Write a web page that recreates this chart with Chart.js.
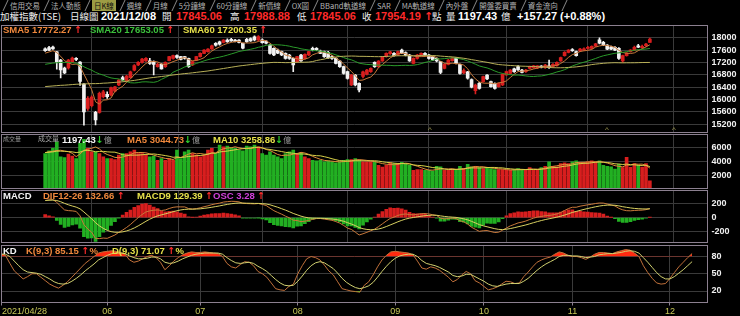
<!DOCTYPE html>
<html>
<head>
<meta charset="utf-8">
<script src="https://cdn.jsdelivr.net/npm/chart.js@4.4.1/dist/chart.umd.min.js"></script>
<style>
  body { margin:0; background:#000; width:740px; height:316px; overflow:hidden; position:relative;
         font-family:"Liberation Sans", Arial, "Noto Sans CJK TC", sans-serif; }
  canvas { position:absolute; left:0; }
  .tabs { position:absolute; left:3px; top:0; height:11px; display:flex; }
  .tab { position:relative; height:11px; font-size:7.5px; line-height:11px; color:#b4b4b4;
         font-family:"Noto Sans CJK TC", "Liberation Sans", sans-serif; white-space:nowrap; padding:0 4px 0 7px; }
  .tab:before { content:""; position:absolute; left:2px; top:0; width:1px; height:11px; background:#8a8a8a; transform:skewX(-25deg); }
  .tab.on span { background:#9c9c44; color:#101010; padding:0 2px; }
  .t { position:absolute; white-space:nowrap; font-weight:bold; line-height:1; }
  .c { font-family:"Noto Sans CJK TC", sans-serif; font-weight:normal; }
  .up { color:#ff2a2a; font-family:"DejaVu Sans", sans-serif; }
  .dn { color:#2ed02e; font-family:"DejaVu Sans", sans-serif; }
  .mk { position:absolute; top:126px; font-size:8px; color:#a09a50; line-height:1; }
</style>
</head>
<body>

<!-- tab bar -->
<div class="tabs">
  <span class="tab">信用交易</span>
  <span class="tab">法人動態</span>
  <span class="tab on"><span>日K線</span></span>
  <span class="tab">週線</span>
  <span class="tab">月線</span>
  <span class="tab">5分鐘線</span>
  <span class="tab">60分鐘線</span>
  <span class="tab">新價線</span>
  <span class="tab">OX圖</span>
  <span class="tab">BBand軌道線</span>
  <span class="tab">SAR</span>
  <span class="tab">MA軌道線</span>
  <span class="tab">內外盤</span>
  <span class="tab">開盤委買賣</span>
  <span class="tab">資金流向</span>
  <span class="tab"></span>
</div>

<!-- header line -->
<div class="t c" style="left:0;top:12px;font-size:9.5px;color:#f0f0f0">加權指數(TSE)</div>
<div class="t c" style="left:70px;top:12px;font-size:9.5px;color:#f0f0f0">日線圖</div>
<div class="t" style="left:101px;top:11px;font-size:11px;color:#ffffff">2021/12/08</div>
<div class="t c" style="left:162px;top:12px;font-size:9.5px;color:#f0f0f0">開</div>
<div class="t" style="left:176px;top:11px;font-size:11px;color:#ff2a2a">17845.06</div>
<div class="t c" style="left:230px;top:12px;font-size:9.5px;color:#f0f0f0">高</div>
<div class="t" style="left:244px;top:11px;font-size:11px;color:#ff2a2a">17988.88</div>
<div class="t c" style="left:297px;top:12px;font-size:9.5px;color:#f0f0f0">低</div>
<div class="t" style="left:310px;top:11px;font-size:11px;color:#ff2a2a">17845.06</div>
<div class="t c" style="left:362px;top:12px;font-size:9.5px;color:#f0f0f0">收</div>
<div class="t" style="left:375px;top:11px;font-size:11px;color:#ff2a2a">17954.19 <span class="up">↑</span></div>
<div class="t c" style="left:432px;top:12px;font-size:9.5px;color:#f0f0f0">點</div>
<div class="t c" style="left:446px;top:12px;font-size:9.5px;color:#f0f0f0">量</div>
<div class="t" style="left:458px;top:11px;font-size:11px;color:#ffffff">1197.43</div>
<div class="t c" style="left:501px;top:12px;font-size:9.5px;color:#f0f0f0">億</div>
<div class="t" style="left:517px;top:11px;font-size:11px;color:#ffffff">+157.27 (+0.88%)</div>

<canvas id="price" width="740" height="108" style="top:25px"></canvas>
<canvas id="vol" width="740" height="55" style="top:134px"></canvas>
<canvas id="macd" width="740" height="53" style="top:190px"></canvas>
<canvas id="kd" width="740" height="71" style="top:245px"></canvas>

<!-- panel legends -->
<div class="t" style="left:3px;top:25.4px;font-size:9.5px;color:#f0883c">SMA5 17772.27 <span class="up">↑</span></div>
<div class="t" style="left:90px;top:25.4px;font-size:9.5px;color:#3cc23c">SMA20 17653.05 <span class="up">↑</span></div>
<div class="t" style="left:183px;top:25.4px;font-size:9.5px;color:#e6e04a">SMA60 17200.35 <span class="up">↑</span></div>

<div class="t c" style="left:3px;top:135.5px;font-size:6px;color:#9a9a9a">成交量</div>
<div class="t c" style="left:38px;top:135px;font-size:7px;color:#a8a8a8">成交量</div>
<div class="t" style="left:62px;top:134.7px;font-size:9.5px;color:#f4f4f4">1197.43<span class="dn">↓</span><span class="c" style="font-size:8px;color:#9a9a9a">億</span></div>
<div class="t" style="left:127px;top:134.7px;font-size:9.5px;color:#f0883c">MA5 3044.73<span class="dn">↓</span><span class="c" style="font-size:8px;color:#9a9a9a">億</span></div>
<div class="t" style="left:213px;top:134.7px;font-size:9.5px;color:#e6e04a">MA10 3258.86<span class="dn">↓</span><span class="c" style="font-size:8px;color:#9a9a9a">億</span></div>

<div class="t" style="left:3px;top:191px;font-size:9.5px;color:#f4f4f4">MACD</div>
<div class="t" style="left:43px;top:191px;font-size:9.5px;color:#f0883c">DIF12-26 132.66 <span class="up">↑</span></div>
<div class="t" style="left:137px;top:191px;font-size:9.5px;color:#e6e04a">MACD9 129.39 <span class="up">↑</span></div>
<div class="t" style="left:213px;top:191px;font-size:9.5px;color:#d040d8">OSC 3.28 <span class="up">↑</span></div>

<div class="t" style="left:3px;top:246.4px;font-size:9.5px;color:#f4f4f4">KD</div>
<div class="t" style="left:26px;top:246.4px;font-size:9.5px;color:#f0883c">K(9,3) 85.15 <span class="up">↑</span>%</div>
<div class="t" style="left:112px;top:246.4px;font-size:9.5px;color:#e6e04a">D(9,3) 71.07 <span class="up">↑</span>%</div>

<div class="t" style="left:2px;top:307.3px;font-size:9px;font-weight:normal;color:#c8c858">2021/04/28</div>

<span class="mk" style="left:428px">^</span>
<span class="mk" style="left:605px">^</span>
<span class="mk" style="left:672px">^</span>

<script>
// x axis: one slot per trading day, 2021/04/28 .. 2021/12/08
var monthTickIdx = [0, 24, 45, 67, 89, 109, 129, 151];
var monthTickText = ['2021/04/28', '06', '07', '08', '09', '10', '11', '12'];

var priceTicks = [15200, 15600, 16000, 16400, 16800, 17200, 17600, 18000];
var volTicks = [2000, 4000, 6000];
var macdTicks = [-200, 0, 200];
var kdTicks = [20, 50, 80];

var opens = [
 17640,17680,17700,17540,17280,17020,17020,17214,17330,17210,
 16500,15716,15800,15586,15586,16090,16170,16150,16270,16470,
 16707,16600,16710,16950,17117,17200,17250,17250,17225,17063,
 17140,17060,17260,17333,17420,17386,17386,17333,17117,17280,
 17390,17494,17548,17640,17818,17870,17850,17925,17950,17925,
 17925,17818,17950,17970,18030,17925,17930,17890,17764,17656,
 17600,17548,17494,17440,17333,17225,17440,17333,17440,17656,
 17656,17570,17548,17530,17386,17333,17246,17063,16901,16470,
 16794,16524,16750,16820,16900,17200,17063,17246,17386,17480,
 17494,17440,17602,17520,17440,17171,17333,17430,17494,17440,
 17386,17333,17225,17009,17138,17260,17333,17138,16860,16900,
 16650,16290,16524,16578,16794,16578,16524,16416,16470,16794,
 16848,16990,17063,16955,16901,17009,17030,17030,17070,17030,
 17090,17074,17095,17246,17419,17527,17620,17548,17570,17600,
 17650,17656,17730,17930,17850,17760,17700,17690,17660,17246,
 17420,17548,17600,17740,17680,17740,17845.06];
var highs = [
 17670,17720,17730,17560,17300,17050,17300,17370,17360,17230,
 16520,16100,16120,15620,16240,16300,16250,16400,16430,16650,
 16760,16780,16920,17130,17230,17330,17360,17330,17250,17180,
 17160,17220,17400,17440,17450,17400,17400,17340,17240,17400,
 17510,17620,17650,17760,17840,17890,17940,17960,17980,17950,
 17940,17830,17980,18000,18060,18070,17960,17900,17790,17670,
 17630,17570,17510,17460,17350,17400,17460,17480,17560,17700,
 17680,17600,17570,17560,17420,17350,17260,17080,16920,16820,
 16810,16540,16920,16980,17030,17220,17260,17400,17510,17560,
 17520,17570,17630,17540,17460,17350,17460,17510,17520,17460,
 17400,17350,17240,17160,17300,17360,17350,17150,16990,16910,
 16670,16500,16560,16760,16810,16600,16540,16540,16830,16920,
 16970,17020,17100,16980,16980,17080,17110,17100,17100,17140,
 17279,17160,17220,17370,17550,17620,17650,17570,17660,17670,
 17720,17740,17820,18000,17880,17780,17730,17710,17680,17440,
 17520,17620,17730,17790,17760,17820,17988.88];
var lows = [
 17560,17580,17620,16980,16700,16840,16980,17200,17260,16460,
 15170,15650,15760,15180,15560,16050,16040,16120,16250,16450,
 16600,16580,16700,16930,17100,17180,17230,17140,16800,17050,
 16980,17040,17250,17310,17330,17280,17310,17040,17100,17260,
 17370,17480,17530,17620,17730,17760,17830,17850,17880,17860,
 17830,17640,17850,17880,17900,17900,17820,17800,17470,17420,
 17480,17420,17310,17300,16900,17200,17230,17310,17420,17570,
 17590,17480,17360,17330,17300,17150,17040,16820,16660,16450,
 16440,16250,16700,16800,16880,17040,17040,17230,17370,17460,
 17400,17420,17480,17410,17230,17150,17310,17410,17430,17310,
 17260,17220,16840,16990,17120,17240,17150,16820,16840,16660,
 16380,16180,16340,16560,16640,16400,16340,16400,16450,16780,
 16830,16880,16940,16860,16880,16990,17010,17000,17020,17010,
 17010,17050,17080,17230,17400,17510,17560,17400,17550,17580,
 17630,17640,17710,17800,17740,17610,17610,17580,17300,17200,
 17400,17530,17580,17680,17660,17720,17845.06];
var closes = [
 17580,17600,17640,17220,16960,16860,17280,17343,17300,16583,
 15600,16040,16080,15338,16200,16250,16090,16380,16415,16630,
 16630,16760,16900,17100,17200,17310,17333,17170,17140,17140,
 16990,17200,17390,17420,17360,17300,17333,17063,17225,17386,
 17494,17602,17630,17740,17755,17790,17925,17872,17900,17872,
 17850,17660,17870,17900,17925,18034,17840,17820,17494,17440,
 17500,17440,17333,17333,17117,17386,17246,17460,17548,17600,
 17610,17494,17386,17350,17333,17171,17063,16848,16686,16794,
 16470,16309,16900,16955,17010,17063,17246,17386,17494,17540,
 17420,17548,17494,17430,17246,17333,17440,17494,17450,17333,
 17279,17246,16880,17138,17279,17333,17171,16848,16934,16690,
 16400,16470,16363,16740,16665,16416,16363,16524,16815,16901,
 16955,16901,16955,16880,16955,17063,17090,17090,17050,17117,
 17030,17138,17200,17354,17527,17602,17580,17420,17636,17640,
 17690,17720,17800,17820,17760,17630,17630,17600,17333,17420,
 17500,17602,17693,17697,17720,17797,17954.19];

var sma5 = [
 17500,17540,17580,17520,17400,17256,17192,17133,17149,17073,
 16821,16573,16321,15928,15852,15982,15992,16052,16267,16353,
 16429,16563,16667,16804,16918,17054,17169,17223,17231,17219,
 17155,17128,17172,17228,17272,17334,17361,17295,17256,17261,
 17300,17354,17467,17570,17644,17703,17768,17816,17848,17872,
 17884,17831,17830,17830,17841,17878,17914,17904,17823,17726,
 17619,17539,17441,17409,17345,17322,17283,17308,17351,17448,
 17493,17542,17528,17488,17435,17347,17261,17153,17020,16912,
 16772,16621,16632,16686,16729,16847,17035,17132,17240,17346,
 17417,17478,17499,17486,17428,17410,17389,17389,17393,17410,
 17399,17360,17238,17175,17164,17175,17160,17154,17113,16995,
 16809,16668,16571,16533,16528,16531,16509,16542,16557,16604,
 16712,16819,16905,16918,16929,16951,16989,17016,17050,17082,
 17075,17085,17107,17168,17250,17364,17453,17497,17553,17576,
 17593,17621,17697,17734,17758,17746,17728,17688,17591,17523,
 17497,17491,17510,17582,17642,17702,17772.27];
var sma20 = [
 17140,17160,17180,17190,17200,17200,17200,17190,17180,17130,
 17060,17000,16950,16880,16830,16790,16740,16700,16680,16669,
 16622,16580,16543,16537,16549,16571,16574,16565,16557,16585,
 16654,16712,16778,16882,16940,16992,17055,17089,17129,17167,
 17210,17252,17289,17321,17349,17373,17402,17437,17475,17512,
 17555,17578,17602,17626,17654,17691,17716,17754,17768,17770,
 17771,17762,17748,17727,17695,17675,17641,17621,17603,17589,
 17577,17569,17545,17517,17488,17445,17406,17357,17317,17284,
 17233,17176,17155,17136,17131,17114,17114,17111,17108,17105,
 17095,17098,17104,17108,17103,17111,17130,17162,17201,17228,
 17268,17315,17314,17323,17337,17350,17346,17319,17291,17249,
 17198,17144,17087,17053,17024,16978,16924,16876,16844,16822,
 16806,16789,16793,16780,16764,16750,16746,16758,16764,16785,
 16817,16850,16892,16923,16966,17025,17086,17131,17172,17209,
 17245,17286,17329,17376,17416,17444,17471,17497,17511,17526,
 17550,17573,17597,17615,17624,17634,17653.05];
var sma60 = [
 16420,16430,16440,16450,16460,16465,16475,16485,16495,16500,
 16505,16510,16515,16515,16520,16530,16535,16545,16555,16565,
 16575,16590,16605,16620,16640,16660,16680,16700,16715,16730,
 16745,16760,16780,16795,16810,16825,16840,16850,16865,16880,
 16895,16910,16925,16945,16965,16985,17005,17025,17045,17065,
 17085,17100,17115,17130,17145,17160,17172,17184,17194,17203,
 17201,17199,17193,17195,17198,17207,17206,17208,17212,17229,
 17263,17287,17309,17342,17361,17376,17393,17400,17405,17408,
 17405,17398,17398,17395,17392,17388,17386,17390,17396,17403,
 17410,17416,17417,17417,17416,17416,17418,17425,17429,17428,
 17424,17418,17406,17396,17388,17380,17368,17351,17335,17315,
 17291,17271,17246,17226,17205,17178,17154,17132,17121,17112,
 17103,17094,17088,17080,17077,17072,17069,17063,17055,17047,
 17037,17031,17028,17028,17031,17039,17047,17057,17073,17087,
 17107,17131,17146,17160,17172,17182,17188,17192,17189,17187,
 17189,17189,17190,17193,17197,17199,17200.35];

var volumes = [
 5165,5556,5900,6877,4676,4578,5067,4774,4432,6632,
 7219,5900,5410,5410,5165,4676,4432,4432,4285,4920,
 5165,5165,5410,5650,5165,5165,4920,4676,4774,4187,
 4432,4187,4432,4187,5654,4432,5410,5654,5165,4920,
 4676,4920,5654,5900,5165,6388,6143,6241,6045,5900,
 5654,5556,6241,6143,6388,6143,5165,4920,5410,4920,
 4676,4432,5165,5410,5654,5165,5263,4676,4432,4187,
 4089,4187,3943,4089,3943,3796,3943,4187,4285,4285,
 4432,4187,3943,3943,3943,3943,3454,3200,3454,3796,
 3698,3698,3894,3698,3454,2720,2818,2818,2720,2720,
 2622,3307,3209,2720,2720,2818,2818,3307,2965,3600,
 3209,3307,3111,2965,3111,2965,2818,2818,2818,2720,
 2720,2818,2965,2818,2818,3111,2818,2818,3111,3307,
 3943,3307,3209,3698,3796,3698,3943,4089,3845,3845,
 3943,4089,3943,4089,3454,3307,3209,2900,3600,3100,
 4600,3165,3700,3450,3180,3696,1197.43];
var volMa5 = [
 5300,5400,5500,5600,5635,5517,5420,5194,4705,5097,
 5625,5791,5919,6114,5821,5312,5019,4823,4598,4549,
 4647,4793,4989,5262,5311,5311,5262,5115,4940,4744,
 4598,4451,4402,4285,4578,4578,4823,5067,5263,5116,
 5165,5067,5067,5214,5263,5605,5850,5967,5996,6143,
 5997,5879,5879,5899,5996,6094,6016,5752,5605,5312,
 5018,4872,4921,4921,5067,5165,5331,5234,5038,4745,
 4529,4314,4168,4099,4050,3992,3943,3992,4031,4099,
 4226,4275,4226,4158,4090,3992,3845,3697,3599,3569,
 3520,3569,3708,3757,3688,3493,3317,3102,2906,2759,
 2740,2837,2916,2916,2916,2955,2857,2877,2926,3102,
 3180,3278,3238,3238,3141,3092,2994,2935,2906,2828,
 2779,2779,2808,2808,2828,2906,2906,2877,2935,3033,
 3199,3297,3375,3493,3591,3542,3669,3845,3874,3884,
 3933,3962,3933,3982,3904,3776,3600,3392,3294,3223,
 3482,3473,3633,3603,3619,3438,3044.73];
var volMa10 = [
 5300,5350,5400,5500,5500,5480,5450,5400,5300,5366,
 5571,5606,5557,5410,5459,5469,5405,5371,5356,5185,
 4980,4906,4906,4930,4930,4979,5028,5052,5101,5028,
 4954,4857,4759,4613,4661,4588,4637,4735,4774,4847,
 4872,4945,5067,5239,5190,5385,5459,5517,5605,5703,
 5801,5865,5923,5948,6070,6045,5948,5816,5752,5654,
 5556,5444,5336,5263,5190,5092,5102,5077,4979,4906,
 4847,4823,4701,4569,4397,4261,4129,4080,4065,4075,
 4109,4109,4109,4094,4094,4109,4060,3962,3878,3830,
 3756,3707,3702,3678,3629,3507,3443,3405,3331,3224,
 3116,3077,3009,2911,2837,2847,2847,2896,2921,3009,
 3067,3067,3058,3082,3121,3136,3136,3087,3072,2984,
 2935,2886,2872,2857,2828,2842,2842,2842,2872,2930,
 3053,3102,3126,3214,3312,3371,3483,3610,3684,3737,
 3737,3816,3889,3928,3894,3855,3781,3662,3638,3563,
 3629,3537,3512,3449,3421,3460,3258.86];

var dif = [
 280,271,265,223,167,113,103,99,91,27,
 -102,-166,-212,-305,-305,-298,-302,-278,-253,-214,
 -181,-143,-100,-49,-1,46,84,99,108,113,
 104,113,134,151,158,157,157,133,126,132,
 144,160,173,190,202,212,228,234,239,237,
 231,209,206,204,202,207,193,178,139,102,
 76,51,22,-2,-37,-42,-58,-52,-40,-25,
 -13,-12,-21,-30,-38,-57,-80,-114,-152,-172,
 -211,-253,-235,-214,-191,-167,-131,-90,-49,-12,
 8,33,48,54,44,42,49,58,61,54,
 43,31,-7,-17,-13,-6,-13,-44,-61,-93,
 -140,-170,-200,-191,-188,-203,-217,-212,-183,-151,
 -120,-99,-77,-65,-49,-27,-7,9,17,29,
 31,41,54,75,105,133,152,152,168,178,
 188,196,207,214,213,199,186,171,136,114,
 102,100,105,108,110,117,132.66];
var macd9 = [
 250,254,256,250,233,209,188,170,154,129,
 83,33,-16,-74,-120,-156,-185,-204,-213,-214,
 -207,-194,-175,-150,-120,-87,-53,-22,4,26,
 41,56,71,87,101,113,121,124,124,126,
 129,136,143,152,162,172,183,194,203,210,
 214,213,211,210,208,208,205,200,188,170,
 152,131,110,87,62,42,22,7,-3,-7,
 -8,-9,-11,-15,-20,-27,-38,-53,-73,-93,
 -116,-144,-162,-172,-176,-174,-166,-151,-130,-107,
 -84,-60,-39,-20,-7,3,12,21,29,34,
 36,35,26,18,12,8,4,-6,-17,-32,
 -54,-77,-102,-119,-133,-147,-161,-171,-174,-169,
 -159,-147,-133,-120,-106,-90,-73,-57,-42,-28,
 -16,-5,7,21,38,57,76,91,106,121,
 134,147,159,170,178,183,183,181,172,160,
 151,142,135,131,128,127,129.39];
var osc = [
 45,25,13,-40,-99,-144,-128,-107,-95,-153,
 -277,-298,-294,-346,-277,-213,-176,-112,-60,-1,
 39,77,112,151,178,200,205,182,156,131,
 94,86,94,96,85,66,54,14,3,9,
 22,37,45,57,60,60,67,60,54,42,
 25,-6,-8,-9,-9,-2,-18,-33,-73,-102,
 -114,-120,-132,-134,-148,-126,-120,-88,-57,-27,
 -8,-5,-15,-22,-27,-45,-63,-92,-119,-119,
 -143,-164,-110,-63,-22,10,52,90,121,142,
 138,140,130,111,77,60,55,55,48,30,
 10,-6,-50,-52,-37,-21,-25,-57,-66,-91,
 -129,-140,-148,-108,-82,-84,-84,-61,-14,27,
 58,72,84,82,85,94,99,99,88,85,
 70,69,70,81,100,114,114,91,93,85,
 81,73,72,66,52,24,4,-15,-54,-69,
 -70,-58,-40,-28,-21,-8,3.28];

var kVals = [
 85,82,68,55,48,41,45,50,50,44,
 38,32,28,25,30,36,44,52,60,68,
 74,80,86,88,89,90,89,87,84,74,
 70,72,76,80,82,78,70,57,64,72,
 78,83,86,88,87,87,88,87,86,85,
 80,68,62,60,66,71,70,64,54,50,
 44,34,24,22,21,28,32,50,64,76,
 80,78,74,65,55,48,36,24,22,20,
 19,18,30,36,48,62,74,82,88,89,
 88,87,86,83,72,60,58,62,60,56,
 50,44,36,40,48,54,50,38,34,28,
 22,24,27,32,37,36,33,34,45,53,
 62,70,74,77,79,84,88,86,82,80,
 80,78,75,79,84,87,87,86,85,88,
 90,92,91,86,80,64,52,42,34,32,
 33,42,52,62,70,78,85.15];
var dVals = [
 84,84,80,72,64,57,53,52,51,49,
 45,41,36,33,32,33,37,42,48,55,
 61,67,74,78,82,85,86,86,85,81,
 78,76,76,77,79,79,76,70,68,69,
 72,76,79,82,84,85,86,86,86,86,
 84,78,73,69,68,69,70,68,63,59,
 54,47,40,34,30,29,30,37,46,56,
 64,69,71,69,64,59,51,42,35,30,
 26,24,26,29,35,44,54,63,71,77,
 81,83,84,84,80,73,68,66,64,61,
 57,53,47,45,46,49,49,45,41,37,
 32,29,28,30,32,33,33,33,37,42,
 49,56,62,67,71,75,80,82,82,81,
 81,80,78,79,80,83,84,85,85,86,
 87,89,90,89,86,78,70,61,52,45,
 41,41,45,51,57,64,71.07];

var RED = '#d81e1e', WHITE = '#f2f2f2', GREEN = '#22b022';
var GRID = '#3a3a3a';
var AXIS_W = 32.4;

function pts(arr) {
    return arr.map(function (v, i) { return {x: i, y: v}; });
}

var upDay = closes.map(function (c, i) { return c >= opens[i]; });

// draws the thin frame round each panel
var framePlugin = {
    id: 'frame',
    afterDraw: function (chart) {
        var a = chart.chartArea, ctx = chart.ctx;
        ctx.save();
        ctx.strokeStyle = '#8c8090';
        ctx.lineWidth = 1;
        ctx.strokeRect(Math.round(a.left) + 0.5, Math.round(a.top) + 0.5,
                       Math.round(a.right - a.left) - 1, Math.round(a.bottom - a.top) - 1);
        ctx.restore();
    }
};

function lineSet(arr, color) {
    return {type: 'line', data: pts(arr), borderColor: color, borderWidth: 1,
            pointRadius: 0, tension: 0, fill: false, order: 1};
}

function panelOptions(yMin, yMax, yTicks, xHeight, showLabels) {
    return {
        responsive: false,
        animation: false,
        events: [],
        layout: {padding: {left: 1, right: 0, top: 0, bottom: 0}},
        plugins: {legend: {display: false}, tooltip: {enabled: false}},
        scales: {
            x: {
                type: 'linear', min: 0, max: 159.5,
                afterBuildTicks: function (axis) {
                    axis.ticks = monthTickIdx.map(function (v) { return {value: v}; });
                },
                afterFit: function (s) { s.height = xHeight; s.paddingLeft = 0; s.paddingRight = 0; },
                grid: {color: GRID, drawTicks: showLabels, tickLength: 3, tickColor: '#8c8090'},
                border: {display: false},
                ticks: {
                    display: showLabels, autoSkip: false, maxRotation: 0, padding: 1,
                    color: '#c8c858', font: {family: 'Liberation Sans', size: 9},
                    callback: function (v) {
                        var k = monthTickIdx.indexOf(v);
                        return k > 0 ? monthTickText[k] : '';
                    }
                }
            },
            y: {
                position: 'right', min: yMin, max: yMax,
                afterBuildTicks: function (axis) {
                    axis.ticks = yTicks.map(function (v) { return {value: v}; });
                },
                afterFit: function (s) { s.width = AXIS_W; s.paddingTop = 0; s.paddingBottom = 0; },
                grid: {color: GRID, drawTicks: false},
                border: {display: false},
                ticks: {color: '#f0f0f0', padding: 4, autoSkip: false,
                        font: {family: 'Liberation Sans', size: 9, weight: 'bold'},
                        callback: function (v) { return String(v); }}
            }
        }
    };
}

// price panel: candles + SMA lines
new Chart(document.getElementById('price'), {
    type: 'bar',
    data: {
        datasets: [
            {data: closes.map(function (c, i) { return {x: i, y: [lows[i], highs[i]]}; }),
             backgroundColor: upDay.map(function (u) { return u ? RED : WHITE; }),
             barThickness: 1, grouped: false, order: 3},
            {data: closes.map(function (c, i) { return {x: i, y: [opens[i], c]}; }),
             backgroundColor: upDay.map(function (u) { return u ? RED : WHITE; }),
             barThickness: 3, minBarLength: 1, grouped: false, order: 2},
            lineSet(sma60, '#b8b058'),
            lineSet(sma20, '#2a9a2a'),
            lineSet(sma5, '#c8783a')
        ]
    },
    options: panelOptions(14919, 18411, priceTicks, 0, false),
    plugins: [framePlugin]
});

// volume panel
new Chart(document.getElementById('vol'), {
    type: 'bar',
    data: {
        datasets: [
            {data: pts(volumes),
             backgroundColor: upDay.map(function (u) { return u ? RED : GREEN; }),
             barThickness: 3, grouped: false, order: 2},
            lineSet(volMa10, '#d8d048'),
            lineSet(volMa5, '#e08a3a')
        ]
    },
    options: panelOptions(0, 8000, volTicks, 0, false),
    plugins: [framePlugin]
});

// MACD panel
new Chart(document.getElementById('macd'), {
    type: 'bar',
    data: {
        datasets: [
            {data: pts(osc),
             backgroundColor: osc.map(function (v) { return v >= 0 ? RED : GREEN; }),
             barThickness: 3, grouped: false, order: 2},
            lineSet(macd9, '#d8d060'),
            lineSet(dif, '#c8783a')
        ]
    },
    options: panelOptions(-370, 404, macdTicks, 0, false),
    plugins: [framePlugin]
});

// KD panel, red area above 80 and green below 20
var kHigh = lineSet(kVals, '#c0703a');
kHigh.fill = {target: {value: 80}, above: '#ff2a10', below: 'rgba(0,0,0,0)'};
var kLow = lineSet(kVals, 'rgba(0,0,0,0)');
kLow.fill = {target: {value: 20}, above: 'rgba(0,0,0,0)', below: '#22e022'};
kLow.order = 3;
new Chart(document.getElementById('kd'), {
    type: 'line',
    data: {
        datasets: [kLow, lineSet(dVals, '#d0d070'), kHigh]
    },
    options: panelOptions(0, 100, kdTicks, 13.5, true),
    plugins: [framePlugin]
});
</script>
</body>
</html>
